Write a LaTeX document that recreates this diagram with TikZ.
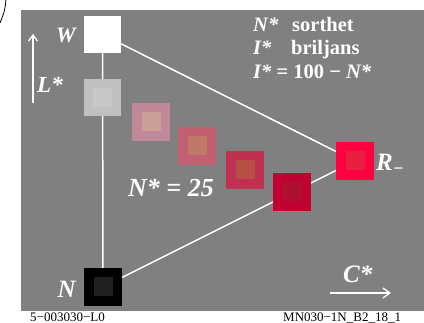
\documentclass[tikz,border=0pt]{standalone}
\usepackage{fontspec}
\setmainfont{Liberation Serif}
\usetikzlibrary{arrows.meta}
\definecolor{bg}{HTML}{808080}
\definecolor{gA}{HTML}{C0C0C0}\definecolor{gAi}{HTML}{C8C8C8}
\definecolor{pB}{HTML}{C08898}\definecolor{pBi}{HTML}{C8A098}
\definecolor{pC}{HTML}{C06070}\definecolor{pCi}{HTML}{C07868}
\definecolor{pD}{HTML}{C03050}\definecolor{pDi}{HTML}{B85048}
\definecolor{pE}{HTML}{C00030}\definecolor{pEi}{HTML}{B01030}
\definecolor{pR}{HTML}{FF0040}\definecolor{pRi}{HTML}{E82040}
\definecolor{nk}{HTML}{000000}\definecolor{nki}{HTML}{202020}
\begin{document}
\begin{tikzpicture}[x=1pt,y=-1pt,
  sq/.style={minimum size=38pt,inner sep=0pt,draw=none,fill=#1},
  isq/.style={minimum size=19pt,inner sep=0pt,draw=none,fill=#1},
  wl/.style={white,line width=1.5pt},
  lbl/.style={text=white,inner sep=0pt,font=\bfseries\itshape\fontsize{#1}{#1}\selectfont},
  tx/.style={text=white,inner sep=0pt,anchor=base west,font=\bfseries\fontsize{20.5}{20.5}\selectfont},
  foot/.style={text=black,inner sep=0pt,anchor=base west,font=\fontsize{13}{13}\selectfont}]
\useasboundingbox (0,0) rectangle (424,323);
\fill[bg] (21,10) rectangle (424,311);
\draw[black,line width=0.8pt] (6,-1) .. controls (5,10) .. (0,23);
\coordinate (cW) at (102.5,34.5);
\coordinate (cN) at (103,287);
\coordinate (cR) at (355,161);
\draw[wl] (cW) -- (cN);
\draw[wl] (cW) -- (cR);
\draw[wl] (cN) -- (cR);
\node[sq=white,minimum size=37pt] (W) at (cW) {};
\node[sq=gA,minimum size=37pt] (G) at (102.5,97.5) {};
\node[isq=gAi] (Gi) at (G) {};
\node[sq=pB] (B) at (151,122) {};
\node[isq=pBi] (Bi) at (B) {};
\node[sq=pC] (C) at (197,146) {};
\node[isq=pCi] (Ci) at (C) {};
\node[sq=pD] (D) at (245,170) {};
\node[isq=pDi] (Di) at (D) {};
\node[sq=pE] (E) at (292,192) {};
\node[isq=pEi] (Ei) at (E) {};
\node[sq=pR] (R) at (cR) {};
\node[isq=pRi] (Ri) at (R) {};
\node[sq=nk] (N) at (cN) {};
\node[isq=nki] (Ni) at (N) {};
\node[lbl=22,anchor=base east] (lW) at (76,43) {W};
\node[lbl=23,anchor=base west] (lL) at (37,93) {L*};
\coordinate (a1) at (33,103);
\coordinate (a2) at (33,34);
\draw[white,line width=1.3pt,-{Straight Barb[length=6pt,width=9pt]}] (a1) -- (a2);
\node[lbl=25,anchor=base east] (lN) at (76,298) {N};
\node[lbl=25,anchor=base west] (lC) at (343,283) {C*};
\coordinate (b1) at (330,293);
\coordinate (b2) at (391,293);
\draw[white,line width=1.3pt,-{Straight Barb[length=7pt,width=10pt]}] (b1) -- (b2);
\node[lbl=25,anchor=base west] (lR) at (376,171) {R\raisebox{-4pt}{\fontsize{18}{18}\selectfont −}};
\node[lbl=26,anchor=base west] (l25) at (128,197) {N* = 25};
\node[tx] (t1a) at (253,32) {\itshape N*};
\node[tx] (t1b) at (292,32) {sorthet};
\node[tx] (t2a) at (253,55) {\itshape I*};
\node[tx] (t2b) at (291,55) {briljans};
\node[tx] (t3) at (253,79) {\itshape I*\/\upshape{} = 100 − \itshape N*};
\node[foot] (f1) at (30,322) {5−003030−L0};
\node[foot] (f2) at (283,322) {MN030−1N\_B2\_18\_1};
\end{tikzpicture}
\end{document}
